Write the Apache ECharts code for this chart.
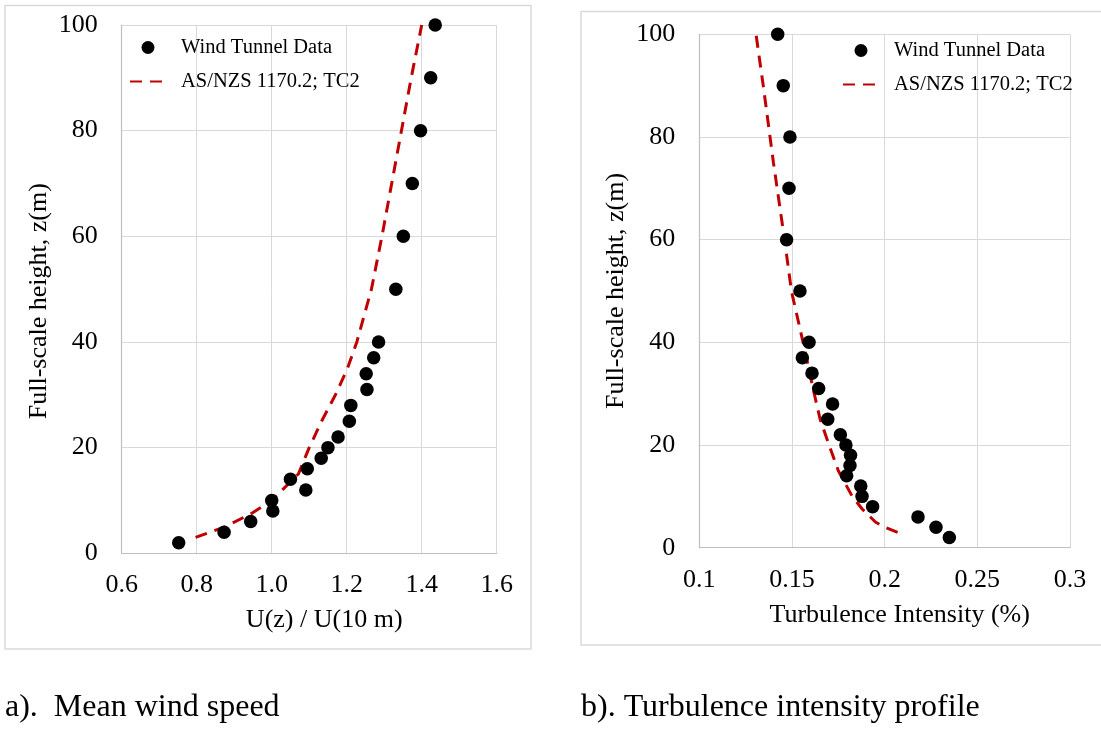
<!DOCTYPE html>
<html>
<head>
<meta charset="utf-8">
<script src="https://cdn.jsdelivr.net/npm/echarts@6/dist/echarts.min.js"></script>
<style>
html,body{margin:0;padding:0;background:#fff;}
#c{width:1101px;height:731px;}
</style>
</head>
<body>
<div id="c"></div>
<script>
// ---- data ----
const wtHeights = [2,4,6,8,10,12,14,16,18,20,22,25,28,31,34,37,40,50,60,70,80,90,100];
const wtSpeed = [0.752,0.873,0.944,1.003,1.000,1.091,1.050,1.095,1.132,1.150,1.177,1.207,1.211,1.254,1.252,1.272,1.285,1.331,1.351,1.375,1.397,1.424,1.436];
const wtTI = [0.2349,0.2277,0.2180,0.1935,0.1878,0.1871,0.1795,0.1813,0.1816,0.1791,0.1761,0.1693,0.1719,0.1644,0.1608,0.1556,0.1592,0.1543,0.1471,0.1484,0.1489,0.1453,0.1423];

const codeHeightsA = [3,5,7.5,10,15,20,25,30,35,40,50,60,70,80,90,100];
const codeSpeed = [0.797,0.875,0.945,1.000,1.071,1.100,1.133,1.170,1.202,1.227,1.266,1.294,1.320,1.346,1.372,1.400];

const codeHeightsB = [3,4,5,7.5,10,15,20,25,30,40,50,60,75,90,100];
const codeTI = [0.207,0.200,0.195,0.188,0.1825,0.175,0.170,0.1652,0.162,0.156,0.1497,0.146,0.140,0.1345,0.1306];

const xTicksA = ['0.6','0.8','1.0','1.2','1.4','1.6'];
const xTicksB = ['0.1','0.15','0.2','0.25','0.3'];
const yTicks = ['0','20','40','60','80','100'];

const nameWT = 'Wind Tunnel Data';
const nameCode = 'AS/NZS 1170.2; TC2';

// ---- chart ----
const FONT = '"Liberation Serif", "Times New Roman", serif';
const RED = '#C00000';
const DASH = [12, 8];
const chart = echarts.init(document.getElementById('c'), null, {renderer:'canvas'});

function xAxis(gridIndex, min, max, interval, labels, name) {
  return {
    type:'value', gridIndex, min, max, interval,
    name, nameLocation:'middle', nameGap:54,
    nameTextStyle:{fontFamily:FONT, fontSize:26, color:'#000', padding:[0,0,0,30]},
    axisLine:{show:true, lineStyle:{color:'#BFBFBF', width:1.2}},
    axisTick:{show:false},
    splitLine:{show:true, lineStyle:{color:'#D9D9D9', width:1}},
    axisLabel:{fontFamily:FONT, fontSize:26, color:'#000', margin:19,
      formatter:(v)=>labels[Math.round((v-min)/interval)]}
  };
}
function yAxis(gridIndex, pad) {
  return {
    type:'value', gridIndex, min:0, max:100, interval:20,
    name:'Full-scale height, z(m)', nameLocation:'middle', nameGap:70,
    nameTextStyle:{fontFamily:FONT, fontSize:26, color:'#000', padding:pad},
    axisLine:{show:true, lineStyle:{color:'#BFBFBF', width:1.2}},
    axisTick:{show:false},
    splitLine:{show:true, lineStyle:{color:'#D9D9D9', width:1}},
    axisLabel:{fontFamily:FONT, fontSize:26, color:'#000', margin:24,
      formatter:(v)=>yTicks[Math.round(v/20)]}
  };
}
function legend(left, top) {
  return {
    left, top, orient:'vertical', padding:0, itemGap:13,
    itemWidth:36, itemHeight:13, selectedMode:false,
    data:[
      {name:nameWT},
      {name:nameCode, itemStyle:{color:'rgba(0,0,0,0)', borderWidth:0, opacity:0}}
    ],
    textStyle:{fontFamily:FONT, fontSize:20.5, color:'#000', padding:[0,0,0,10]}
  };
}

const option = {
  animation:false,
  backgroundColor:'#fff',
  grid:[
    {left:121.7, top:25, width:375, height:528.3, containLabel:false},
    {left:699.3, top:34.3, width:370.7, height:513.4, containLabel:false}
  ],
  xAxis:[
    xAxis(0, 0.6, 1.6, 0.2, xTicksA, 'U(z) / U(10 m)'),
    xAxis(1, 0.1, 0.3, 0.05, xTicksB, 'Turbulence Intensity (%)')
  ],
  yAxis:[yAxis(0, [0,24,0,0]), yAxis(1, [0,0,0,0])],
  legend:[legend(129, 37), legend(842, 40)],
  series:[
    {type:'line', name:nameCode, xAxisIndex:0, yAxisIndex:0, symbol:'none', z:2,
     data:codeSpeed.map((v,i)=>[v, codeHeightsA[i]]),
     lineStyle:{color:RED, width:3, type:DASH}, itemStyle:{color:RED}},
    {type:'scatter', name:nameWT, xAxisIndex:0, yAxisIndex:0, symbol:'circle', symbolSize:13.5, z:3,
     data:wtSpeed.map((v,i)=>[v, wtHeights[i]]), itemStyle:{color:'#000', opacity:1}},
    {type:'line', name:nameCode, xAxisIndex:1, yAxisIndex:1, symbol:'none', z:2,
     data:codeTI.map((v,i)=>[v, codeHeightsB[i]]),
     lineStyle:{color:RED, width:3, type:DASH}, itemStyle:{color:RED}},
    {type:'scatter', name:nameWT, xAxisIndex:1, yAxisIndex:1, symbol:'circle', symbolSize:13.5, z:3,
     data:wtTI.map((v,i)=>[v, wtHeights[i]]), itemStyle:{color:'#000', opacity:1}}
  ],
  graphic:[
    {type:'rect', z:-10, shape:{x:5, y:5.5, width:526, height:643.5}, style:{fill:null, stroke:'#D9D9D9', lineWidth:1.5}},
    {type:'rect', z:-10, shape:{x:581, y:11.5, width:530, height:633.5}, style:{fill:null, stroke:'#D9D9D9', lineWidth:1.5}},
    {type:'text', left:5, top:692, style:{text:'a).  Mean wind speed', font:'32px "Liberation Serif"', fill:'#000'}},
    {type:'text', left:581, top:692, style:{text:'b). Turbulence intensity profile', font:'32px "Liberation Serif"', fill:'#000'}}
  ]
};
chart.setOption(option);
</script>
</body>
</html>
